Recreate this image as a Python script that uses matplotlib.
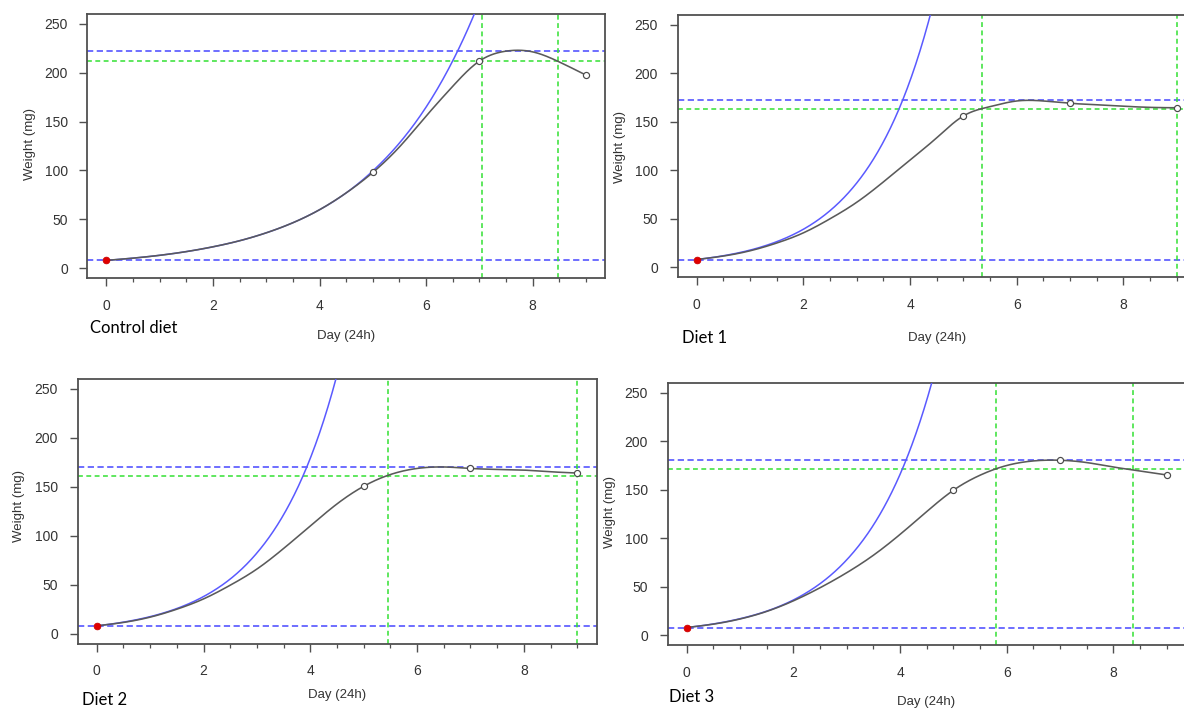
import numpy as np
import matplotlib
matplotlib.use("Agg")
import matplotlib.pyplot as plt
from matplotlib.ticker import MultipleLocator

plt.rcParams['font.family'] = ['Liberation Sans', 'DejaVu Sans']
plt.rcParams['lines.scale_dashes'] = False

# ---------------- data ----------------
panel_names = ["Control diet", "Diet 1", "Diet 2", "Diet 3"]

obs_days = [0, 5, 7, 9]
obs_control = [8, 97.9, 211.8, 197.6]
obs_diet1 = [8, 156.0, 169.0, 164.4]
obs_diet2 = [8, 150.5, 168.7, 164.0]
obs_diet3 = [8, 149.5, 180.4, 165.2]

# fitted (grey) growth curve, sampled every half day
curve_days = [0, 0.5, 1, 1.5, 2, 2.5, 3, 3.5, 4, 4.5, 5, 5.5, 6, 6.5, 7, 7.5, 8, 8.5, 9]
curve_control = [8, 10.3, 13.2, 17.0, 21.9, 28.1, 36.2, 46.5, 59.8, 77.0, 97.9, 124.0, 155.5, 186.0, 211.8, 222.0, 221.3, 211.0, 197.6]
curve_diet1 = [8, 11.6, 17.0, 25.0, 35.5, 50.0, 67.0, 88.0, 110.6, 133.5, 156.0, 165.6, 171.4, 171.4, 169.0, 167.5, 166.0, 164.8, 164.4]
curve_diet2 = [8, 11.5, 16.9, 25.0, 35.5, 49.5, 66.0, 87.0, 110.0, 132.5, 150.5, 162.5, 168.7, 170.2, 168.7, 167.7, 167.0, 165.3, 164.0]
curve_diet3 = [8, 11.5, 16.8, 24.6, 35.5, 49.0, 64.5, 82.5, 104.0, 127.5, 149.5, 165.0, 175.0, 179.7, 180.4, 178.0, 173.4, 169.3, 165.2]

# exponential (blue) growth curve, sampled every half day
exp_days_control = [0, 0.5, 1, 1.5, 2, 2.5, 3, 3.5, 4, 4.5, 5, 5.5, 6, 6.5, 7]
exp_control = [8.0, 10.3, 13.2, 17.0, 21.9, 28.1, 36.2, 46.5, 59.8, 77.0, 99.5, 128.0, 164.7, 212.0, 272.5]
exp_days_diet1 = [0, 0.5, 1, 1.5, 2, 2.5, 3, 3.5, 4, 4.5]
exp_diet1 = [8.0, 11.9, 17.7, 26.4, 39.2, 58.4, 86.9, 129.3, 192.4, 286.3]
exp_days_diet2 = [0, 0.5, 1, 1.5, 2, 2.5, 3, 3.5, 4, 4.5]
exp_diet2 = [8.0, 11.8, 17.4, 25.7, 37.9, 55.8, 82.4, 121.5, 179.1, 264.2]
exp_days_diet3 = [0, 0.5, 1, 1.5, 2, 2.5, 3, 3.5, 4, 4.5, 5]
exp_diet3 = [8.0, 11.7, 17.1, 24.9, 36.4, 53.2, 77.8, 113.6, 165.9, 242.4, 354.0]

# reference lines
low_blue = [8, 8, 8, 8]
high_blue = [222.5, 172.0, 170.2, 180.4]
green_h = [211.5, 163.4, 161.3, 171.0]
green_v = [[7.06, 8.47], [5.34, 9.0], [5.46, 9.0], [5.80, 8.37]]

x_ticks = [0, 2, 4, 6, 8]
y_ticks = [0, 50, 100, 150, 200, 250]
x_label = "Day (24h)"
y_label = "Weight (mg)"

obs_all = [obs_control, obs_diet1, obs_diet2, obs_diet3]
curve_all = [curve_control, curve_diet1, curve_diet2, curve_diet3]
exp_days_all = [exp_days_control, exp_days_diet1, exp_days_diet2, exp_days_diet3]
exp_all = [exp_control, exp_diet1, exp_diet2, exp_diet3]


def natural_spline(x, y, xs):
    x = np.asarray(x, float); y = np.asarray(y, float)
    n = len(x); h = np.diff(x)
    A = np.zeros((n, n)); b = np.zeros(n)
    A[0, 0] = A[-1, -1] = 1
    for i in range(1, n - 1):
        A[i, i - 1] = h[i - 1]; A[i, i] = 2 * (h[i - 1] + h[i]); A[i, i + 1] = h[i]
        b[i] = 3 * ((y[i + 1] - y[i]) / h[i] - (y[i] - y[i - 1]) / h[i - 1])
    c = np.linalg.solve(A, b)
    idx = np.clip(np.searchsorted(x, xs) - 1, 0, n - 2)
    dx = xs - x[idx]
    bb = (y[idx + 1] - y[idx]) / h[idx] - h[idx] * (2 * c[idx] + c[idx + 1]) / 3
    d = (c[idx + 1] - c[idx]) / (3 * h[idx])
    return y[idx] + bb * dx + c[idx] * dx ** 2 + d * dx ** 3


# ---------------- layout (pixels) ----------------
W, H = 1184, 713
fig = plt.figure(figsize=(W / 100, H / 100), dpi=100)
fig.patch.set_facecolor("white")

boxes = [(87.3, 14, 605, 278), (677.5, 15, 1196, 277),
         (77.5, 379, 596.5, 643.5), (667.5, 383, 1186, 645)]
ylabel_pos = [(30, 144), (620, 147), (19, 506), (610, 512)]
xlabel_pos = [(346, 336), (937, 338), (337, 695), (926, 702)]
name_pos = [(90, 328), (682, 338), (82, 700), (669, 697)]

BLUE_LINE = "#5a5aff"
BLUE_DASH = "#4646ff"
GREEN = "#33e033"
GREY = "#5a5a5a"
AXC = "#505050"

for k in range(4):
    l, t, r, b = boxes[k]
    ax = fig.add_axes([l / W, 1 - b / H, (r - l) / W, (b - t) / H])
    ax.set_xlim(-0.36, 9.36)
    ax.set_ylim(-10, 260)

    dash = (0, (4.5, 2.5))
    ax.axhline(low_blue[k], color=BLUE_DASH, lw=1.1, ls=dash, zorder=2)
    ax.axhline(high_blue[k], color=BLUE_DASH, lw=1.1, ls=dash, zorder=2)
    ax.axhline(green_h[k], color=GREEN, lw=1.1, ls=(0, (3.5, 2.5)), zorder=2)
    for gx in green_v[k]:
        ax.axvline(gx, color=GREEN, lw=1.1, ls=(0, (3.5, 2.5)), zorder=2)

    # exponential curve (log-linear between the sampled values)
    ed = np.asarray(exp_days_all[k], float)
    ev = np.asarray(exp_all[k], float)
    tt = np.linspace(ed[0], ed[-1], 400)
    ax.plot(tt, np.exp(np.interp(tt, ed, np.log(ev))), color=BLUE_LINE, lw=1.1, zorder=3)

    # fitted curve
    ts = np.linspace(curve_days[0], curve_days[-1], 600)
    ax.plot(ts, natural_spline(curve_days, curve_all[k], ts), color=GREY, lw=1.15, zorder=4)

    obs = obs_all[k]
    ax.plot(obs_days[1:], obs[1:], ls="none", marker="o", ms=4.4, mfc="white",
            mec="#4a4a4a", mew=0.85, zorder=5)
    ax.plot(obs_days[:1], obs[:1], ls="none", marker="o", ms=4.8, mfc="#e00000",
            mec="#cc0000", mew=0.6, zorder=6)

    ax.set_xticks(x_ticks)
    ax.set_yticks(y_ticks)
    ax.xaxis.set_minor_locator(MultipleLocator(0.5))
    ax.tick_params(axis="both", which="major", length=6, width=1.0, color=AXC,
                   labelsize=10, labelcolor="#333333")
    ax.tick_params(axis="x", which="major", pad=9)
    ax.tick_params(axis="y", which="major", pad=8)
    ax.tick_params(axis="x", which="minor", length=3, width=0.9, color=AXC)
    for sp in ax.spines.values():
        sp.set_color(AXC)
        sp.set_linewidth(1.3)

    yx, yy = ylabel_pos[k]
    fig.text(yx / W, 1 - yy / H, y_label, rotation=90, ha="center", va="center",
             fontsize=9.5, color="#333333")
    xx, xy = xlabel_pos[k]
    fig.text(xx / W, 1 - xy / H, x_label, ha="center", va="center",
             fontsize=9.5, color="#333333")
    nx, ny = name_pos[k]
    fig.text(nx / W, 1 - ny / H, panel_names[k], ha="left", va="center",
             fontsize=12, color="black", family=["Lato", "DejaVu Sans"])

fig.savefig("out.png", dpi=100, facecolor="white")
